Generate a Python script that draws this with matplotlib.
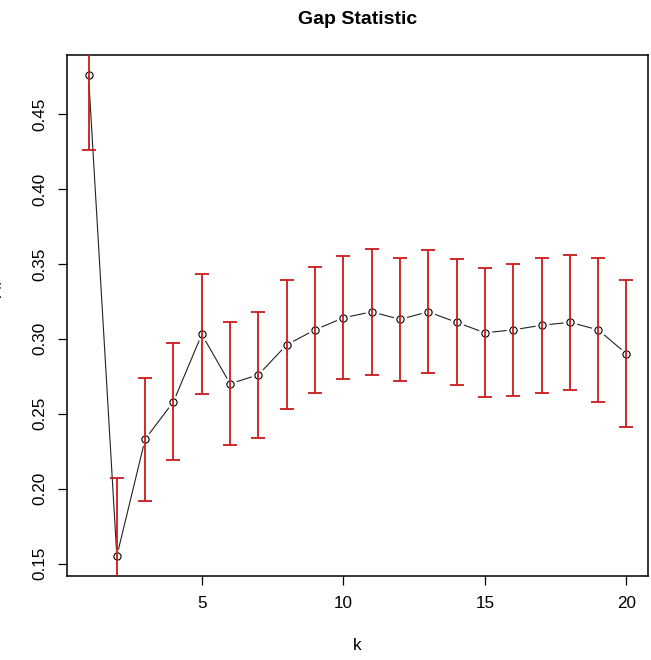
from matplotlib import pyplot as plt
import numpy as np

plt.rcParams['font.family'] = ['Liberation Sans', 'DejaVu Sans']

# gap statistic per number of clusters
k = list(range(1, 21))
gap = [0.476, 0.155, 0.233, 0.258, 0.303, 0.270, 0.276, 0.296, 0.306, 0.314,
       0.318, 0.313, 0.318, 0.311, 0.304, 0.306, 0.309, 0.311, 0.306, 0.290]
se = [0.050, 0.052, 0.041, 0.039, 0.040, 0.041, 0.042, 0.043, 0.042, 0.041,
      0.042, 0.041, 0.041, 0.042, 0.043, 0.044, 0.045, 0.045, 0.048, 0.049]
x_ticks = [5, 10, 15, 20]
y_ticks = [0.15, 0.20, 0.25, 0.30, 0.35, 0.40, 0.45]

W, H = 651, 660
fig = plt.figure(figsize=(W / 100, H / 100), dpi=100)
ax = fig.add_axes([67 / W, 84 / H, 581 / W, 521 / H])

# type="b": line with gaps round the points
ax.plot(k, gap, color='#222222', lw=0.8, zorder=2)
ax.plot(k, gap, 'o', ms=10, mfc='white', mec='none', zorder=3)
ax.plot(k, gap, 'o', ms=5.2, mfc='none', mec='black', mew=0.8, zorder=4)
ax.errorbar(k, gap, yerr=se, fmt='none', ecolor='#cc1a1a', elinewidth=1.3,
            capsize=4.7, capthick=1.3, zorder=5)

ax.set_xlim(0.24, 20.76)
ax.set_ylim(0.1417, 0.4894)
ax.set_xticks(x_ticks)
ax.set_yticks(y_ticks)
ax.set_xticklabels([str(v) for v in x_ticks])
ax.set_yticklabels(['%.2f' % v for v in y_ticks])
ax.tick_params(axis='both', length=6.8, width=0.9, labelsize=12.3, pad=7.5)
plt.setp(ax.get_yticklabels(), rotation=90, va='center')
for s in ax.spines.values():
    s.set_linewidth(1.1)

fig.text(357.5 / W, 1 - 19 / H, 'Gap Statistic', ha='center', va='center',
         fontsize=14, fontweight='bold')
fig.text(357.5 / W, 1 - 646 / H, 'k', ha='center', va='center', fontsize=12.3)
# y label sits mostly off the left edge, as in the original
fig.text(4 / W, 1 - 300 / H, 'Gap$_k$', ha='right', va='center', rotation=90,
         fontsize=12.3)

fig.savefig('out.png', dpi=100)
